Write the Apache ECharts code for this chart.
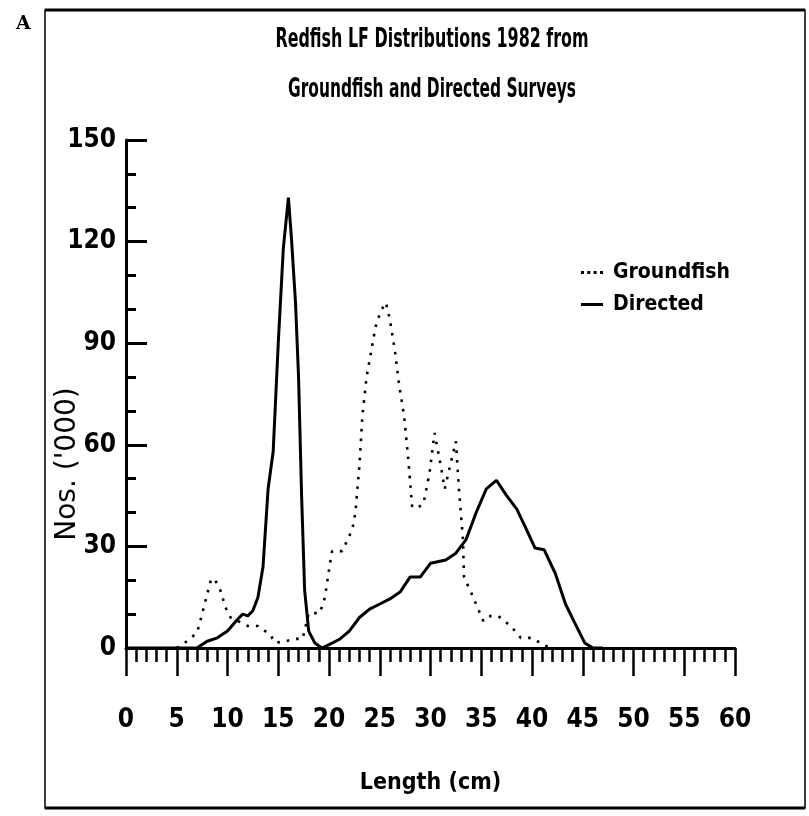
<!DOCTYPE html>
<html>
<head>
<meta charset="utf-8">
<script src="https://cdn.jsdelivr.net/npm/echarts@6/dist/echarts.min.js"></script>
<style>
html,body{margin:0;padding:0;background:#fff;}
#chart{width:809px;height:816px;}
</style>
</head>
<body>
<div id="chart"></div>
<script>
// ---- data ----
const titleLines = ['Redfish LF Distributions 1982 from', 'Groundfish and Directed Surveys'];
const xName = 'Length (cm)';
const yName = "Nos. ('000)";
const seriesNames = ['Groundfish', 'Directed'];

const groundLen = [5, 6, 7, 7.5, 8, 8.4, 8.8, 9.3, 9.8, 10.3, 11, 12, 13, 13.7, 14.2, 14.7, 15.7, 16.7, 17.4, 18, 19.1, 19.6, 20.1, 20.3, 21.3, 22.3, 22.6, 23, 23.3, 23.7, 24.3, 24.6, 25.1, 25.6, 26, 26.5, 26.9, 27.4, 27.8, 28.2, 28.8, 29.3, 29.9, 30.4, 31, 31.4, 32.1, 32.5, 32.8, 33.2, 33.3, 34.2, 35.2, 35.7, 36.7, 37.9, 38.9, 39.9, 41.4, 42.1];
const groundVal = [0, 2, 4.5, 10, 16, 20.5, 20, 17, 12, 9, 8, 6.5, 6.5, 5, 4, 1.5, 2, 2.7, 2.7, 10.3, 10.3, 15, 25, 28.6, 28.6, 35, 40, 54, 69, 80, 90, 95, 99.5, 102, 97, 87.6, 78, 68.5, 56, 41.5, 41.6, 42.5, 51.6, 63.5, 54, 47, 56, 61, 47, 32, 21, 15, 8, 9.4, 9.4, 6.5, 3, 3, 0.6, 0];

const directLen = [0, 7, 7.5, 8, 9, 10, 11, 11.5, 12, 12.5, 13, 13.5, 14, 14.5, 15, 15.5, 16, 16.3, 16.7, 17, 17.3, 17.6, 18, 18.6, 19.3, 20, 21, 22, 23, 24, 25, 26, 27, 28, 29, 30, 31.5, 32.5, 33.5, 34.5, 35.5, 36.5, 37.5, 38.5, 39.3, 40.3, 41.2, 42.3, 43.3, 44.2, 45.2, 46, 47];
const directVal = [0, 0, 1, 2, 3, 5, 8.5, 10, 9.5, 11, 15, 24, 47, 58, 90, 118, 133, 121, 102, 80, 45, 17, 5, 1.5, 0, 1, 2.5, 5, 9, 11.5, 13, 14.5, 16.5, 21, 21, 25, 26, 28, 32, 40, 47, 49.5, 45, 41, 36, 29.5, 29, 22, 13, 7.5, 1.5, 0, 0];

const pair = (xs, ys) => xs.map((x, i) => [x, ys[i]]);

const narrow = "'Liberation Sans Narrow', 'DejaVu Sans Condensed', 'Liberation Sans', sans-serif";
const dottedIcon = 'path://M0,0h3v3h-3zM6.3,0h3v3h-3zM12.6,0h3v3h-3zM19,0h3v3h-3z';
const solidIcon = 'path://M0,0h22v3h-22z';

const chart = echarts.init(document.getElementById('chart'), null, {renderer: 'canvas'});
chart.setOption({
  animation: false,
  backgroundColor: '#fff',
  legend: {
    orient: 'vertical',
    left: 576,
    top: 257,
    itemWidth: 22,
    itemHeight: 3,
    itemGap: 11,
    textStyle: {fontFamily: narrow, fontWeight: 'bold', fontSize: 21, color: '#000', padding: [0, 0, 0, 5]},
    data: [
      {name: seriesNames[0], icon: dottedIcon},
      {name: seriesNames[1], icon: solidIcon}
    ]
  },
  grid: {left: 126, right: 74, top: 140, bottom: 168, containLabel: false},
  xAxis: {
    type: 'value', min: 0, max: 60, interval: 5,
    name: xName, nameLocation: 'middle', nameGap: 124,
    nameTextStyle: {fontFamily: narrow, fontWeight: 'bold', fontSize: 23, color: '#000'},
    axisLine: {lineStyle: {color: '#000', width: 3}},
    axisTick: {length: 28, lineStyle: {color: '#000', width: 2.5}},
    minorTick: {show: true, splitNumber: 5, length: 14, lineStyle: {color: '#000', width: 2.5}},
    axisLabel: {margin: 59, fontFamily: narrow, fontWeight: 'bold', fontSize: 26, color: '#000'},
    splitLine: {show: false}
  },
  yAxis: {
    type: 'value', min: 0, max: 150, interval: 30,
    name: yName, nameLocation: 'middle', nameGap: 44, nameRotate: 90, nameMoveOverlap: false,
    nameTextStyle: {fontFamily: "'DejaVu Sans', sans-serif", fontSize: 28, color: '#000', padding: [0, 140, 0, 0]},
    axisLine: {lineStyle: {color: '#000', width: 3}},
    axisTick: {inside: true, length: 21, lineStyle: {color: '#000', width: 3}},
    minorTick: {show: true, splitNumber: 3, length: 10, lineStyle: {color: '#000', width: 3}},
    axisLabel: {margin: 10, fontFamily: narrow, fontWeight: 'bold', fontSize: 26, color: '#000'},
    splitLine: {show: false}
  },
  series: [
    {
      name: seriesNames[0], type: 'line', showSymbol: false, symbol: 'none',
      data: pair(groundLen, groundVal),
      lineStyle: {color: '#000', width: 2.6, type: [2.6, 7]},
      itemStyle: {color: '#000'}
    },
    {
      name: seriesNames[1], type: 'line', showSymbol: false, symbol: 'none',
      data: pair(directLen, directVal),
      lineStyle: {color: '#000', width: 3},
      itemStyle: {color: '#000'}
    }
  ],
  graphic: [
    {type: 'rect', shape: {x: 45, y: 10, width: 760, height: 798}, style: {fill: 'none', stroke: '#000', lineWidth: 1.5}, silent: true},
    {type: 'line', shape: {x1: 45, y1: 10, x2: 805, y2: 10}, style: {stroke: '#000', lineWidth: 3}, silent: true},
    {type: 'line', shape: {x1: 45, y1: 808, x2: 805, y2: 808}, style: {stroke: '#000', lineWidth: 3}, silent: true},
    {type: 'text', left: 16, top: 15, style: {text: 'A', font: "bold 19px 'DejaVu Serif', 'Liberation Serif', serif", fill: '#000'}},
    {type: 'text', x: 432, y: 40, scaleX: 0.68, style: {text: titleLines[0], font: "bold 26px " + narrow, fill: '#000', textAlign: 'center', textVerticalAlign: 'middle'}},
    {type: 'text', x: 432, y: 90, scaleX: 0.66, style: {text: titleLines[1], font: "bold 26px " + narrow, fill: '#000', textAlign: 'center', textVerticalAlign: 'middle'}}
  ]
});
</script>
</body>
</html>
